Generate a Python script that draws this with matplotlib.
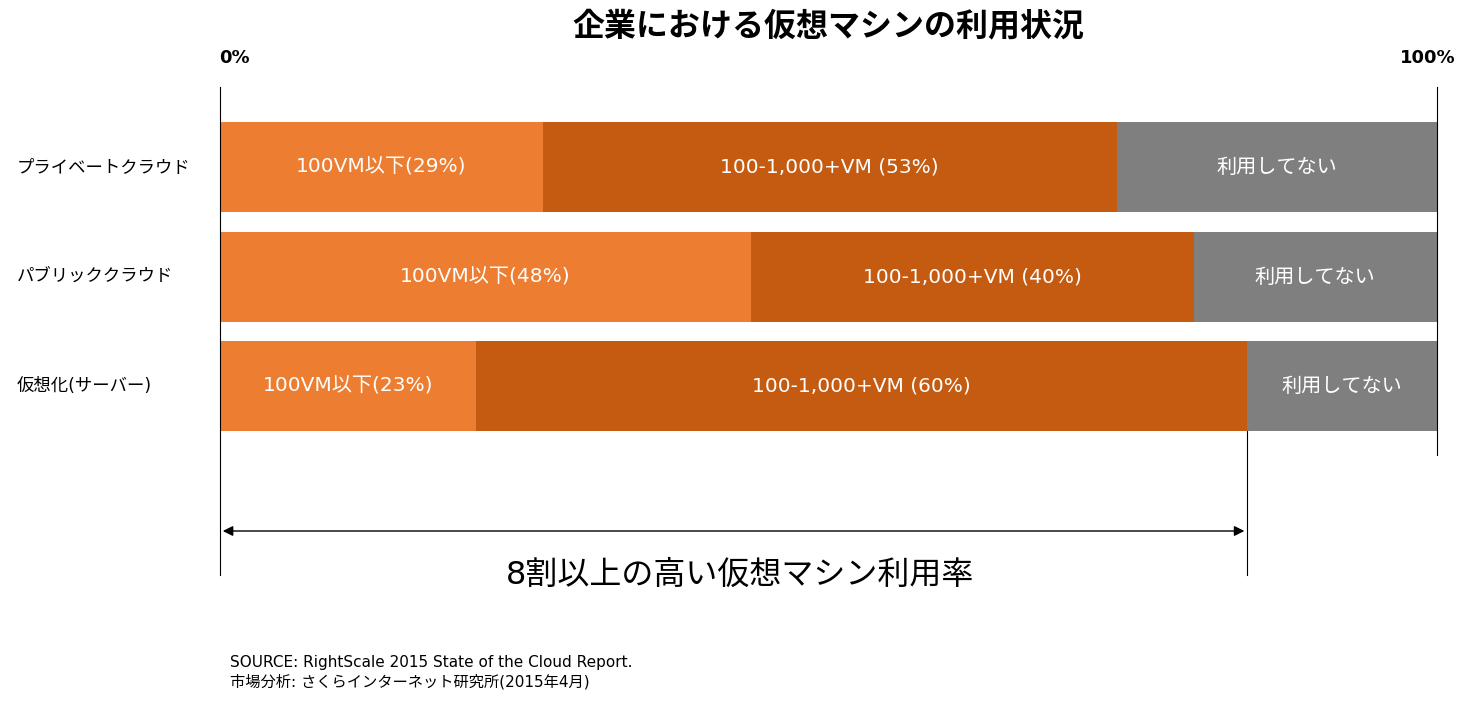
import matplotlib.pyplot as plt

plt.rcParams['font.family'] = ['DejaVu Sans', 'Noto Sans CJK JP']

categories = ['プライベートクラウド', 'パブリッククラウド', '仮想化(サーバー)']
# bar widths (% of full width)
small_vm = [26.5, 43.6, 21.0]
large_vm = [47.2, 36.4, 63.4]
labeled_small = [29, 48, 23]
labeled_large = [53, 40, 60]
unused_label = '利用してない'

c_small = '#ED7D31'
c_large = '#C55A11'
c_none = '#7F7F7F'

W, H = 1483, 704
fig = plt.figure(figsize=(W / 100, H / 100), dpi=100)
x0, x1 = 220, 1437
ax = fig.add_axes([x0 / W, 0, (x1 - x0) / W, 1])
ax.set_xlim(0, 100)
ax.set_ylim(H, 0)
ax.axis('off')

ys = [167, 277, 386]
bh = 90
for i, y in enumerate(ys):
    s, l = small_vm[i], large_vm[i]
    rest = 100 - s - l
    ax.barh(y, s, height=bh, left=0, color=c_small)
    ax.barh(y, l, height=bh, left=s, color=c_large)
    ax.barh(y, rest, height=bh, left=s + l, color=c_none)
    kw = dict(color='white', fontsize=14.5, ha='center', va='center')
    ax.text(s / 2, y, f'100VM以下({labeled_small[i]}%)', **kw)
    ax.text(s + l / 2, y, f'100-1,000+VM ({labeled_large[i]}%)', **kw)
    ax.text(s + l + rest / 2, y, unused_label, **kw)
    ax.text(-16.7, y, categories[i], fontsize=12.5, ha='left', va='center', clip_on=False)

lw = 0.8
ax.plot([0, 0], [87, 575], color='black', lw=lw, clip_on=False)
ax.plot([100, 100], [87, 455], color='black', lw=lw, clip_on=False)
end = small_vm[2] + large_vm[2]
ax.plot([end, end], [431, 575], color='black', lw=lw, clip_on=False)
ax.annotate('', xy=(0, 531), xytext=(end, 531),
            arrowprops=dict(arrowstyle='<|-|>', color='black', lw=1, mutation_scale=15))

ax.text(1.2, 58, '0%', fontsize=13, fontweight='bold', ha='center', va='center')
ax.text(99.2, 58, '100%', fontsize=13, fontweight='bold', ha='center', va='center', clip_on=False)
fig.text(828 / W, 1 - 27 / H, '企業における仮想マシンの利用状況', fontsize=23, fontweight='bold',
         ha='center', va='center')
fig.text(740 / W, 1 - 575 / H, '8割以上の高い仮想マシン利用率', fontsize=23, ha='center', va='center')
fig.text(230 / W, 1 - 662 / H, 'SOURCE: RightScale 2015 State of the Cloud Report.', fontsize=11, ha='left', va='center')
fig.text(230 / W, 1 - 682 / H, '市場分析: さくらインターネット研究所(2015年4月)', fontsize=11, ha='left', va='center')

fig.savefig('out.png', dpi=100)
